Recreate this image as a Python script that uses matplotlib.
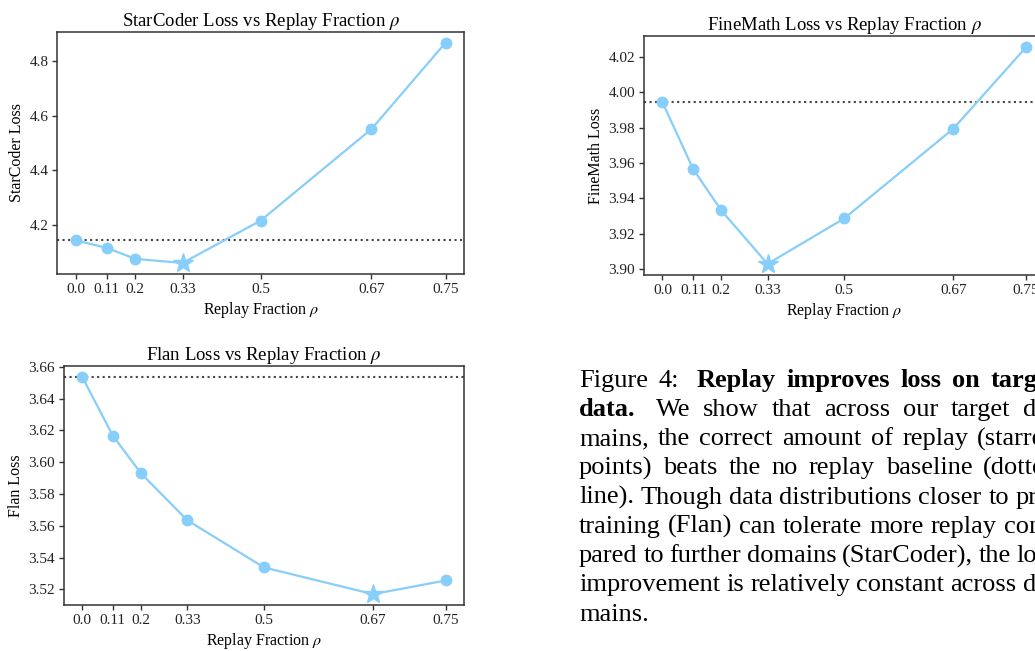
import numpy as np
import matplotlib
matplotlib.use("Agg")
import matplotlib.pyplot as plt
from matplotlib.ticker import MultipleLocator

# ---------------- data ----------------
rho = [0.0, 0.11, 0.2, 0.33, 0.5, 0.67, 0.75]
rho_labels = ["0.0", "0.11", "0.2", "0.33", "0.5", "0.67", "0.75"]
starcoder_loss = [4.144, 4.116, 4.076, 4.061, 4.216, 4.551, 4.867]
finemath_loss = [3.9943, 3.9567, 3.9334, 3.9030, 3.9287, 3.9794, 4.0255]
flan_loss = [3.6537, 3.6168, 3.5932, 3.5635, 3.5338, 3.5170, 3.5256]
ytick_steps = [0.2, 0.02, 0.02]

panels = [
    ("StarCoder", starcoder_loss),
    ("FineMath", finemath_loss),
    ("Flan", flan_loss),
]

caption_lines = [
    [("Figure", "normal"), ("4:", "normal"), ("Replay", "bold"), ("improves", "bold"),
     ("loss", "bold"), ("on", "bold"), ("target", "bold")],
    [("data.", "bold"), ("We", "normal"), ("show", "normal"), ("that", "normal"),
     ("across", "normal"), ("our", "normal"), ("target", "normal"), ("do-", "normal")],
    "mains, the correct amount of replay (starred",
    "points) beats the no replay baseline (dotted",
    "line). Though data distributions closer to pre-",
    "training (Flan) can tolerate more replay com-",
    "pared to further domains (StarCoder), the loss",
    "improvement is relatively constant across do-",
    "mains.",
]

# ---------------- style ----------------
plt.rcParams["font.family"] = ["Liberation Serif", "DejaVu Serif"]
plt.rcParams["mathtext.fontset"] = "stix"
LINE_C = "#87CEFA"
SPINE_C = "#333333"

W, H = 1035, 651
fig = plt.figure(figsize=(W / 100, H / 100), dpi=100)


def px_rect(left, right, top, bottom):
    return [left / W, 1 - bottom / H, (right - left) / W, (bottom - top) / H]


rects = [
    px_rect(57.3, 464, 31.7, 274),
    px_rect(644.3, 1044.3, 36.3, 274.7),
    px_rect(64, 464, 366, 605),
]

fwd = lambda x: -np.log(1 - np.asarray(x, dtype=float))
inv = lambda y: 1 - np.exp(-np.asarray(y, dtype=float))

for (name, vals), rect, step in zip(panels, rects, ytick_steps):
    ax = fig.add_axes(rect)
    ax.set_xscale("function", functions=(fwd, inv))
    best = int(np.argmin(vals))
    others = [i for i in range(len(vals)) if i != best]
    ax.plot(rho, vals, color=LINE_C, lw=1.6, marker="o", ms=7.5,
            markevery=others, zorder=3)
    ax.plot([rho[best]], [vals[best]], color=LINE_C, marker="*", ms=15,
            ls="none", zorder=4)
    ax.axhline(vals[0], color="#444444", ls=":", lw=1.5, zorder=2)
    ax.set_xticks(rho)
    ax.set_xticklabels(rho_labels)
    ax.minorticks_off()
    ax.yaxis.set_major_locator(MultipleLocator(step))
    ax.set_title(f"{name} Loss vs Replay Fraction $\\rho$", fontsize=13.5, pad=4)
    ax.set_xlabel("Replay Fraction $\\rho$", fontsize=11.5, labelpad=3)
    ax.set_ylabel(f"{name} Loss", fontsize=11.5, labelpad=3)
    ax.tick_params(labelsize=11, color=SPINE_C, labelcolor="#222222", length=3.5, width=1, pad=3)
    for s in ax.spines.values():
        s.set_color(SPINE_C)
        s.set_linewidth(1.1)

# ---------------- caption (justified) ----------------
renderer = fig.canvas.get_renderer()
CAP_FS = 19
x0, x1 = 579.0, 1058.0
base0, lead = 386.7, 29.25


def word_width(word, weight):
    t = fig.text(0, 0, word, fontsize=CAP_FS, fontweight=weight)
    bb = t.get_window_extent(renderer=renderer)
    t.remove()
    return bb.width


for i, line in enumerate(caption_lines):
    if isinstance(line, str):
        words = [(w, "normal") for w in line.split()]
    else:
        words = line
    y = 1 - (base0 + i * lead) / H
    widths = [word_width(w, wt) for w, wt in words]
    last = i == len(caption_lines) - 1
    if last or len(words) == 1:
        sp = word_width("a a", "normal") - 2 * word_width("a", "normal")
        gaps = [sp] * (len(words) - 1)
    else:
        extra = [0.0] * (len(words) - 1)
        if i == 0:
            extra[1] = 6.0
        if i == 1:
            extra[0] = 8.0
        free = (x1 - x0) - sum(widths) - sum(extra)
        g = free / (len(words) - 1)
        gaps = [g + e for e in extra]
    x = x0
    for k, ((w, wt), ww) in enumerate(zip(words, widths)):
        fig.text(x / W, y, w, fontsize=CAP_FS, fontweight=wt, va="baseline", ha="left")
        if k < len(gaps):
            x += ww + gaps[k]

fig.savefig("out.png", dpi=100)
